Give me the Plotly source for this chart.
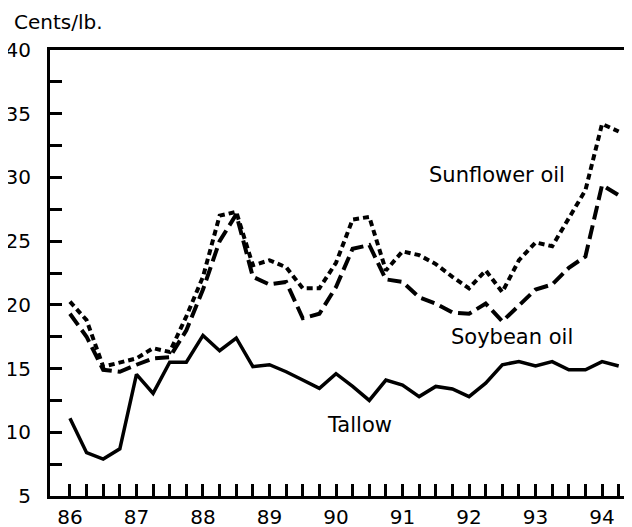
import plotly.graph_objects as go

# quarterly observations, 1986 through 1994 Q2 (x in year units, "86" = 1986)
quarters = [86.0, 86.25, 86.5, 86.75, 87.0, 87.25, 87.5, 87.75,
            88.0, 88.25, 88.5, 88.75, 89.0, 89.25, 89.5, 89.75,
            90.0, 90.25, 90.5, 90.75, 91.0, 91.25, 91.5, 91.75,
            92.0, 92.25, 92.5, 92.75, 93.0, 93.25, 93.5, 93.75,
            94.0, 94.25]

sunflower = [20.25, 18.8, 15.15, 15.5, 15.8, 16.6, 16.3, 19.1,
             22.2, 27.0, 27.3, 23.1, 23.5, 22.95, 21.3, 21.3,
             23.3, 26.7, 26.9, 22.7, 24.2, 23.9, 23.2, 22.2,
             21.3, 22.7, 21.0, 23.5, 24.9, 24.6, 26.8, 29.0,
             34.2, 33.6]

soybean = [19.3, 17.5, 14.9, 14.75, 15.3, 15.8, 15.9, 18.0,
           21.2, 25.0, 27.1, 22.2, 21.6, 21.8, 18.95, 19.3,
           21.4, 24.4, 24.7, 22.0, 21.8, 20.6, 20.1, 19.4,
           19.3, 20.1, 18.7, 19.95, 21.2, 21.6, 22.9, 23.8,
           29.4, 28.6]

tallow = [11.1, 8.4, 7.9, 8.7, 14.55, 13.05, 15.5, 15.5,
          17.6, 16.4, 17.4, 15.15, 15.3, 14.75, 14.1, 13.45,
          14.6, 13.6, 12.5, 14.1, 13.7, 12.8, 13.6, 13.4,
          12.8, 13.85, 15.3, 15.55, 15.2, 15.55, 14.9, 14.9,
          15.55, 15.2]

y_tickvals = [5, 7.5, 10, 12.5, 15, 17.5, 20, 22.5, 25, 27.5, 30, 32.5, 35, 37.5, 40]
y_ticktext = ["5", "", "10", "", "15", "", "20", "", "25", "", "30", "", "35", "", "40"]
x_ticktext = ["86", "", "", "", "87", "", "", "", "88", "", "", "", "89", "", "", "",
              "90", "", "", "", "91", "", "", "", "92", "", "", "", "93", "", "", "",
              "94", ""]

_FONT = "DejaVu Sans"
_INK = "#000000"
_tick_font = dict(family=_FONT, size=20, color=_INK)
_label_font = dict(family=_FONT, size=21, color=_INK)

fig = go.Figure()
fig.add_trace(go.Scatter(x=quarters, y=sunflower, mode="lines", name="Sunflower oil",
                         line=dict(color=_INK, width=4, dash="6px,4px")))
fig.add_trace(go.Scatter(x=quarters, y=soybean, mode="lines", name="Soybean oil",
                         line=dict(color=_INK, width=4, dash="14px,6px")))
fig.add_trace(go.Scatter(x=quarters, y=tallow, mode="lines", name="Tallow",
                         line=dict(color=_INK, width=3.5)))

_axis = dict(
    showgrid=False,
    zeroline=False,
    showline=True,
    linecolor=_INK,
    linewidth=3,
    mirror=True,
    ticks="inside",
    ticklen=12,
    tickwidth=3,
    tickcolor=_INK,
    tickfont=_tick_font,
    automargin=False,
)

# page body keeps its default 8px margin, so the figure is sized to fit inside it
fig.update_layout(
    width=624,
    height=519,
    paper_bgcolor="white",
    plot_bgcolor="white",
    showlegend=False,
    margin=dict(l=42, r=2, t=42, b=31),
    xaxis=dict(range=[85.7, 94.42], tickmode="array", tickvals=quarters,
               ticktext=x_ticktext, ticklabelstandoff=1, **_axis),
    yaxis=dict(range=[5, 40], tickmode="array", tickvals=y_tickvals,
               ticktext=y_ticktext, ticklabelstandoff=12, **_axis),
    annotations=[
        dict(text="Cents/lb.", xref="paper", yref="paper", x=-0.066, y=1.063,
             xanchor="left", yanchor="middle", showarrow=False, font=_tick_font),
        dict(text="Sunflower oil", xref="x", yref="y", x=92.42, y=30.2,
             showarrow=False, font=_label_font),
        dict(text="Soybean oil", xref="x", yref="y", x=92.64, y=17.5,
             showarrow=False, font=_label_font),
        dict(text="Tallow", xref="x", yref="y", x=90.35, y=10.6,
             showarrow=False, font=_label_font),
    ],
)

fig.write_html("out.html")
